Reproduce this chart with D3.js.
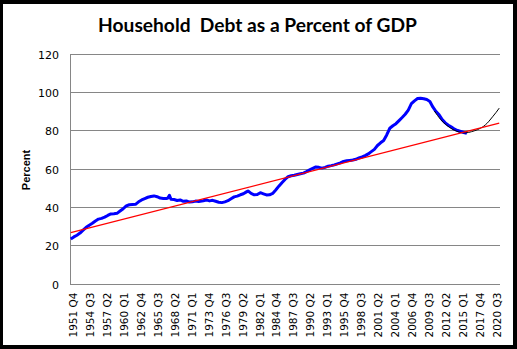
<!DOCTYPE html>
<html>
<head>
<meta charset="utf-8">
<script src="https://d3js.org/d3.v7.min.js"></script>
<style>
  html, body { margin: 0; padding: 0; background: #fff; }
  svg { display: block; }
</style>
</head>
<body>
<svg id="chart" width="517" height="349"></svg>
<script>
// ---------- DATA ----------
const titleText = "Household  Debt as a Percent of GDP";
const yAxisTitle = "Percent";
const firstQuarter = "1951 Q4";
const lastQuarter = "2021 Q2";
const yTicks = [0, 20, 40, 60, 80, 100, 120];
const tickLabels = ["1951 Q4","1954 Q3","1957 Q2","1960 Q1","1962 Q4","1965 Q3","1968 Q2","1971 Q1","1973 Q4","1976 Q3","1979 Q2","1982 Q1","1984 Q4","1987 Q3","1990 Q2","1993 Q1","1995 Q4","1998 Q3","2001 Q2","2004 Q1","2006 Q4","2009 Q3","2012 Q2","2015 Q1","2017 Q4","2020 Q3"];

const debtPeriods = ["1951 Q4","1952 Q2","1952 Q4","1953 Q2","1953 Q4","1954 Q2","1954 Q4","1955 Q2","1955 Q4","1956 Q2","1956 Q4","1957 Q2","1957 Q4","1958 Q2","1958 Q4","1959 Q2","1959 Q4","1960 Q2","1960 Q4","1961 Q2","1961 Q4","1962 Q2","1962 Q4","1963 Q2","1963 Q4","1964 Q2","1964 Q4","1965 Q2","1965 Q4","1966 Q2","1966 Q4","1967 Q2","1967 Q3","1967 Q4","1968 Q1","1968 Q3","1969 Q1","1969 Q3","1970 Q1","1970 Q3","1971 Q1","1971 Q3","1972 Q1","1972 Q3","1973 Q2","1973 Q4","1974 Q2","1974 Q4","1975 Q2","1975 Q4","1976 Q2","1976 Q4","1977 Q2","1977 Q4","1978 Q2","1978 Q4","1979 Q2","1979 Q4","1980 Q2","1980 Q3","1981 Q1","1981 Q3","1982 Q1","1982 Q3","1983 Q1","1983 Q3","1984 Q1","1984 Q3","1985 Q1","1985 Q3","1986 Q1","1986 Q3","1987 Q1","1987 Q3","1988 Q1","1988 Q3","1989 Q1","1989 Q3","1990 Q1","1990 Q3","1991 Q1","1991 Q3","1992 Q1","1992 Q3","1993 Q1","1993 Q3","1994 Q1","1994 Q3","1995 Q1","1995 Q3","1996 Q1","1996 Q3","1997 Q1","1997 Q3","1998 Q1","1998 Q3","1999 Q1","1999 Q3","2000 Q1","2000 Q3","2001 Q1","2001 Q3","2002 Q1","2002 Q3","2003 Q1","2003 Q3","2004 Q1","2004 Q3","2005 Q1","2005 Q3","2006 Q1","2006 Q3","2007 Q1","2007 Q3","2008 Q1","2008 Q3","2009 Q1","2009 Q3","2010 Q1","2010 Q3","2011 Q1","2011 Q3","2012 Q1","2012 Q3","2013 Q1","2013 Q3","2014 Q1","2014 Q3","2015 Q1","2015 Q3","2016 Q1"];
const debtValues = [23.2,24.3,25.2,26.3,27.8,29.3,30.4,31.4,32.6,33.6,34.0,34.6,35.5,36.3,36.4,36.6,37.8,39.0,40.5,41.1,41.2,41.3,42.6,43.6,44.3,45.0,45.4,45.7,45.3,44.6,44.4,44.3,44.6,46.0,44.0,43.8,43.3,43.6,42.9,43.1,42.5,42.6,43.0,42.8,43.2,43.6,43.1,43.4,42.9,42.4,42.2,42.6,43.2,44.2,45.2,45.6,46.3,46.8,47.8,48.3,47.0,46.3,46.4,47.4,46.8,46.2,46.3,47.0,48.8,50.8,52.6,54.3,55.7,56.2,56.5,56.9,57.3,57.6,58.4,59.3,60.1,60.8,60.6,60.2,60.6,61.2,61.5,61.9,62.4,62.9,63.7,64.0,64.2,64.4,64.8,65.5,66.0,66.7,67.6,68.8,70.0,72.0,73.4,74.6,77.5,81.0,82.3,83.4,85.0,86.6,88.3,90.5,93.8,95.3,96.5,96.6,96.4,96.0,95.0,92.0,89.7,88.0,85.5,83.8,82.6,81.6,80.5,79.8,79.3,78.8,78.3];

const projPeriods = ["2010 Q4","2011 Q2","2011 Q4","2012 Q2","2012 Q4","2013 Q2","2013 Q4","2014 Q2","2014 Q4","2015 Q2","2015 Q4","2016 Q2","2016 Q4","2017 Q2","2017 Q4","2018 Q2","2018 Q4","2019 Q2","2019 Q4","2020 Q2","2020 Q4","2021 Q2"];
const projValues = [90.0,87.6,85.6,83.9,82.5,81.3,80.3,79.6,79.0,78.7,78.6,78.8,79.2,79.7,80.3,81.1,82.1,83.5,85.3,87.3,89.3,91.5];

const trendPeriods = ["1951 Q4","2021 Q2"];
const trendValues = [26.5, 83.7];

// ---------- BUILD CATEGORIES ----------
function parseQ(s) { const p = s.split(" Q"); return +p[0] * 4 + (+p[1] - 1); }
function fmtQ(t) { return Math.floor(t / 4) + " Q" + (t % 4 + 1); }
const quarters = [];
for (let t = parseQ(firstQuarter); t <= parseQ(lastQuarter); t++) quarters.push(fmtQ(t));

// ---------- LAYOUT ----------
const W = 517, H = 349;
const plot = { left: 70, right: 500, top: 53.5, bottom: 283.5 };
const svg = d3.select("#chart");

// frame
svg.append("rect").attr("x", 0).attr("y", 0).attr("width", W).attr("height", H).attr("fill", "#000");
svg.append("rect").attr("x", 3).attr("y", 4).attr("width", 510).attr("height", 341).attr("fill", "#fff");

const x = d3.scaleBand().domain(quarters).range([plot.left, plot.right]).padding(0);
const xc = q => x(q) + x.bandwidth() / 2;
const y = d3.scaleLinear().domain([0, 120]).range([plot.bottom, plot.top]);

// gridlines
svg.append("g").selectAll("line").data(yTicks).join("line")
  .attr("x1", plot.left).attr("x2", plot.right)
  .attr("y1", d => Math.round(y(d)) + 0.5).attr("y2", d => Math.round(y(d)) + 0.5)
  .attr("stroke", "#868686").attr("stroke-width", 1);
// left axis line
svg.append("line").attr("x1", plot.left + 0.5).attr("x2", plot.left + 0.5)
  .attr("y1", Math.round(y(120)) + 0.5).attr("y2", Math.round(y(0)) + 0.5)
  .attr("stroke", "#868686").attr("stroke-width", 1);

// y axis labels
const yAxis = d3.axisLeft(y).tickValues(yTicks).tickSize(0).tickPadding(0);
const gy = svg.append("g").attr("transform", `translate(${plot.left - 11},0)`).call(yAxis);
gy.select(".domain").remove();
gy.selectAll("text").attr("font-family", "DejaVu Sans, Verdana, sans-serif")
  .attr("font-size", "11px").attr("fill", "#000").attr("dy", "0.42em");

// x axis labels
const xAxis = d3.axisBottom(x).tickValues(tickLabels).tickSize(0).tickPadding(0);
const gx = svg.append("g").attr("transform", `translate(0,${plot.bottom})`).call(xAxis);
gx.select(".domain").remove();
gx.selectAll("text")
  .attr("font-family", "DejaVu Sans, Verdana, sans-serif")
  .attr("font-size", "10.5px").attr("fill", "#000")
  .attr("text-anchor", "end")
  .attr("transform", "translate(2.5,9) rotate(-90)")
  .attr("x", 0).attr("y", 0).attr("dy", "0.36em");

// y axis title
svg.append("text").attr("transform", "translate(30,170) rotate(-90)")
  .attr("text-anchor", "middle")
  .attr("font-family", "Liberation Sans, Arial, sans-serif")
  .attr("font-weight", "bold").attr("font-size", "11px")
  .text(yAxisTitle);

// title
const title = svg.append("text").attr("x", 257.5).attr("y", 32)
  .attr("text-anchor", "middle")
  .attr("font-family", "Lato, sans-serif").attr("font-weight", "bold")
  .attr("font-size", "20px").attr("fill", "#000")
  .style("white-space", "pre")
  .text(titleText);
const tw = title.node().getComputedTextLength();
title.attr("font-size", (20 * 319 / tw).toFixed(2) + "px");

// series
const line = d3.line().x(d => xc(d[0])).y(d => y(d[1]));

svg.append("path").datum(d3.zip(debtPeriods, debtValues))
  .attr("fill", "none").attr("stroke", "#0000ff").attr("stroke-width", 3)
  .attr("stroke-linejoin", "round").attr("d", line);

svg.append("path").datum(d3.zip(projPeriods, projValues))
  .attr("fill", "none").attr("stroke", "#000").attr("stroke-width", 1)
  .attr("d", line.curve(d3.curveMonotoneX));

svg.append("path").datum(d3.zip(trendPeriods, trendValues))
  .attr("fill", "none").attr("stroke", "#ff0000").attr("stroke-width", 1.25)
  .attr("d", d3.line().x(d => xc(d[0])).y(d => y(d[1])));
</script>
</body>
</html>
